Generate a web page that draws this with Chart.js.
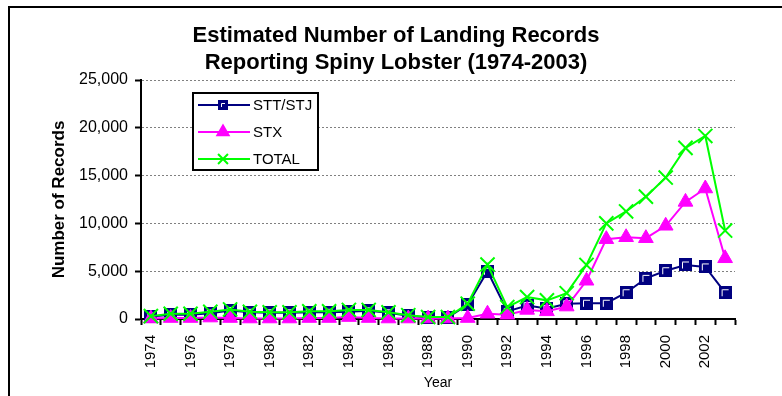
<!DOCTYPE html>
<html>
<head>
<meta charset="utf-8">
<script src="https://cdn.jsdelivr.net/npm/chart.js@4/dist/chart.umd.min.js"></script>
<style>
  body { margin: 0; background: #fff; }
  #moldura { position: absolute; left: 8px; top: 6px; width: 800px; height: 420px; border-left: 2px solid #000; border-top: 2px solid #000; }
  #quadro { position: absolute; left: 0; top: 0; width: 782px; height: 396px; }
</style>
</head>
<body>
<div id="moldura"></div>
<div id="quadro"><canvas id="meuGrafico" width="782" height="396"></canvas></div>
<script>
// Dados (registros por ano)
const anos = ["1974", "1975", "1976", "1977", "1978", "1979", "1980", "1981", "1982", "1983",
  "1984", "1985", "1986", "1987", "1988", "1989", "1990", "1991", "1992", "1993",
  "1994", "1995", "1996", "1997", "1998", "1999", "2000", "2001", "2002", "2003"];
const sttStj = [250, 450, 450, 600, 900, 700, 650, 650, 700, 700, 750, 850, 650, 350, 150,
  150, 1500, 5000, 800, 1400, 1100, 1600, 1650, 1650, 2750, 4250, 5050, 5650, 5450, 2750];
const stx = [50, 100, 100, 150, 100, 50, 50, 50, 100, 100, 200, 100, 50, 50, 50,
  50, 100, 550, 450, 950, 800, 1300, 4000, 8350, 8550, 8450, 9750, 12250, 13650, 6350];
const total = [300, 550, 550, 750, 1000, 750, 700, 700, 800, 800, 950, 950, 700, 400, 200,
  200, 1600, 5700, 1250, 2300, 1950, 2700, 5650, 10000, 11250, 12800, 14800, 17900, 19150, 9250];
const nomesSeries = ["STT/STJ", "STX", "TOTAL"];
const titulo = ["Estimated Number of Landing Records", "Reporting Spiny Lobster (1974-2003)"];
const ticksY = [0, 5000, 10000, 15000, 20000, 25000];

const fonte = '"Liberation Sans", Arial, sans-serif';

// Marcador quadrado azul com o brilho branco no canto
function criarQuadrado(lado) {
  const c = document.createElement("canvas");
  c.width = lado; c.height = lado;
  const g = c.getContext("2d");
  g.fillStyle = "#000080";
  g.fillRect(0, 0, lado, lado);
  g.strokeStyle = "#fff";
  g.lineWidth = 1;
  g.beginPath();
  g.moveTo(3.5, lado - 3);
  g.lineTo(3.5, 3.5);
  g.lineTo(lado - 3, 3.5);
  g.stroke();
  return c;
}
const quadrado = criarQuadrado(13);
const quadradoPeq = criarQuadrado(10);

// Título em duas linhas
const pluginTitulo = {
  id: "titulo",
  afterDraw(chart) {
    const ctx = chart.ctx;
    ctx.save();
    ctx.font = "bold 22px " + fonte;
    ctx.fillStyle = "#000";
    ctx.textAlign = "center";
    ctx.textBaseline = "middle";
    ctx.fillText(titulo[0], 396, 36);
    ctx.fillText(titulo[1], 396, 63);
    ctx.restore();
  }
};

// Legenda dentro da área do gráfico
const pluginLegenda = {
  id: "legendaCaixa",
  afterDatasetsDraw(chart) {
    const ctx = chart.ctx;
    ctx.save();
    ctx.fillStyle = "#fff";
    ctx.fillRect(193, 93, 125, 77);
    ctx.strokeStyle = "#000";
    ctx.lineWidth = 2;
    ctx.strokeRect(193, 93, 125, 77);

    chart.data.datasets.forEach((ds, i) => {
      const y = 105 + i * 27;
      ctx.strokeStyle = ds.borderColor;
      ctx.lineWidth = 2;
      ctx.beginPath();
      ctx.moveTo(198, y);
      ctx.lineTo(250, y);
      ctx.stroke();

      if (i === 0) {
        ctx.drawImage(quadradoPeq, 223 - 5, y - 5);
      } else {
        ctx.fillStyle = ds.backgroundColor;
        Chart.helpers.drawPoint(ctx, {
          pointStyle: ds.pointStyle,
          radius: i === 1 ? 6.5 : 7,
          rotation: 0,
          borderWidth: ds.pointBorderWidth
        }, 223, y);
      }

      ctx.fillStyle = "#000";
      ctx.font = "15px " + fonte;
      ctx.textAlign = "left";
      ctx.textBaseline = "middle";
      ctx.fillText(ds.label, 253, y + 1);
    });
    ctx.restore();
  }
};

const ctx = document.getElementById("meuGrafico");

new Chart(ctx, {
  type: "line",
  data: {
    labels: anos,
    datasets: [
      {
        label: nomesSeries[0],
        data: sttStj,
        borderColor: "#000080",
        backgroundColor: "#000080",
        borderWidth: 2,
        pointStyle: quadrado,
        pointRadius: 6,
        order: 3,
        clip: false
      },
      {
        label: nomesSeries[1],
        data: stx,
        borderColor: "#FF00FF",
        backgroundColor: "#FF00FF",
        borderWidth: 2,
        pointStyle: "triangle",
        pointRadius: 8.5,
        pointBorderWidth: 1,
        order: 2,
        clip: false
      },
      {
        label: nomesSeries[2],
        data: total,
        borderColor: "#00FF00",
        backgroundColor: "#00FF00",
        borderWidth: 2,
        pointStyle: "crossRot",
        pointRadius: 10,
        pointBorderWidth: 2,
        order: 1,
        clip: false
      }
    ]
  },
  options: {
    responsive: false,
    animation: false,
    layout: { padding: { left: 0, top: 80, right: 47, bottom: 0 } },
    plugins: {
      legend: { display: false },
      tooltip: { enabled: false }
    },
    scales: {
      x: {
        offset: true,
        afterFit: (s) => { s.height = 77; },
        grid: {
          offset: true,
          drawOnChartArea: false,
          tickLength: 6,
          tickWidth: 2,
          tickColor: "#000"
        },
        border: { color: "#000", width: 2 },
        ticks: {
          autoSkip: false,
          maxRotation: 90,
          minRotation: 90,
          padding: 10,
          color: "#000",
          font: { family: fonte, size: 15 },
          callback: function(v, i) { return i % 2 === 0 ? this.getLabelForValue(v) : ""; }
        },
        title: {
          display: true,
          text: "Year",
          color: "#000",
          font: { family: fonte, size: 14 },
          padding: { top: 0, bottom: 4 }
        }
      },
      y: {
        min: ticksY[0],
        max: ticksY[ticksY.length - 1],
        afterFit: (s) => { s.width = 141; },
        afterBuildTicks: (s) => { s.ticks = ticksY.map(v => ({ value: v })); },
        grid: {
          color: "#808080",
          lineWidth: 1,
          tickLength: 6,
          tickWidth: 2,
          tickColor: "#000"
        },
        border: { color: "#000", width: 2, dash: [2, 2] },
        ticks: {
          padding: 7,
          color: "#000",
          font: { family: fonte, size: 16 },
          callback: (v) => v.toLocaleString("en-US")
        },
        title: {
          display: true,
          text: "Number of Records",
          color: "#000",
          font: { family: fonte, size: 17, weight: "bold" },
          padding: { top: 49, bottom: 0 }
        }
      }
    }
  },
  plugins: [pluginTitulo, pluginLegenda]
});
</script>
</body>
</html>
